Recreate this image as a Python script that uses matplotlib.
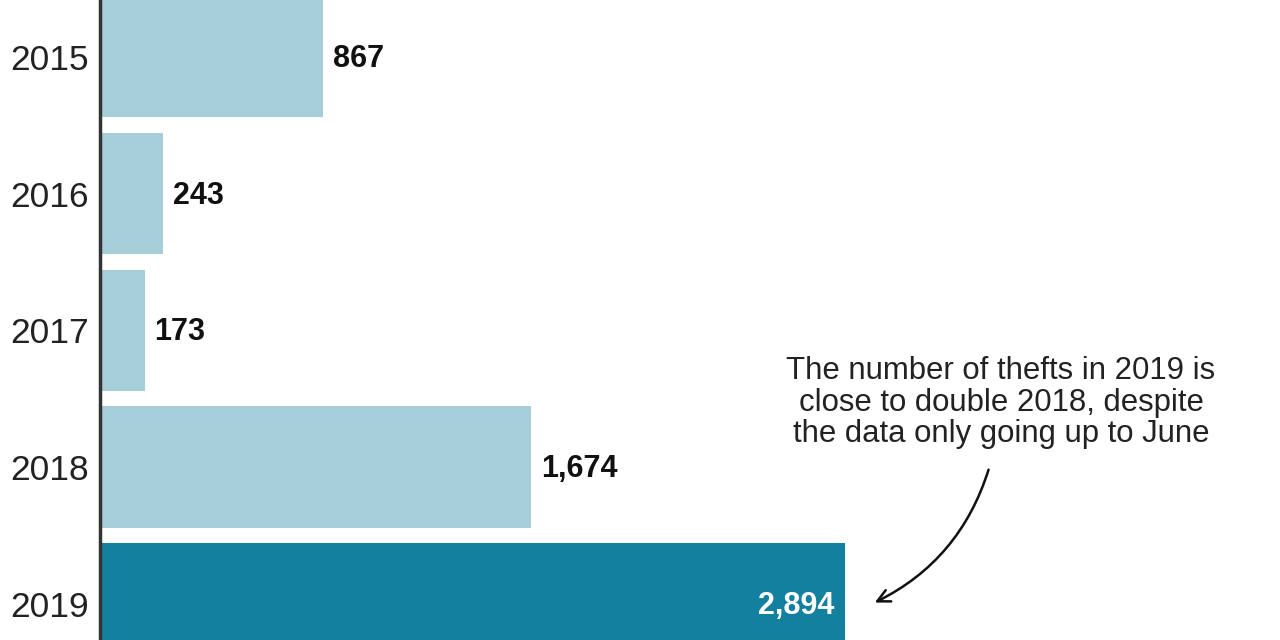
import matplotlib
matplotlib.use("Agg")
import matplotlib.pyplot as plt

years = ["2015", "2016", "2017", "2018", "2019"]
thefts = [867, 243, 173, 1674, 2894]
colors = ["#a5ced9", "#a5ced9", "#a5ced9", "#a5ced9", "#13809f"]
note = "The number of thefts in 2019 is\nclose to double 2018, despite\nthe data only going up to June"

plt.rcParams['font.family'] = ['Liberation Sans', 'DejaVu Sans']

fig = plt.figure(figsize=(12.8, 6.4), dpi=100)
ax = fig.add_axes([100/1280, 0, 1180/1280, 1])
pos = list(range(len(years)))
ax.barh(pos, thefts, height=0.888, color=colors, zorder=1)
ax.set_xlim(0, 4584)
ax.set_ylim(4.265, -0.415)
ax.set_yticks(pos)
ax.set_yticklabels(years, fontsize=25.5, color="#222222")
ax.tick_params(axis='y', length=0, pad=8)
ax.set_xticks([])
for s in ["top", "right", "bottom"]:
    ax.spines[s].set_visible(False)
ax.spines["left"].set_linewidth(2.5)
ax.spines["left"].set_color("#333333")
ax.spines["left"].set_zorder(3)

for i, v in enumerate(thefts):
    lab = f"{v:,}"
    if i == len(thefts) - 1:
        ax.annotate(lab, (v, i), xytext=(-11, -2), textcoords="offset pixels",
                    ha="right", va="center", fontsize=22, fontweight="bold", color="white")
    else:
        ax.annotate(lab, (v, i), xytext=(10, -2), textcoords="offset pixels",
                    ha="left", va="center", fontsize=22, fontweight="bold", color="#111111")

ax.text(0.782, 0.371, note, transform=fig.transFigure, ha="center", va="center",
        fontsize=22.4, color="#222222", linespacing=1.05)
ax.annotate("", xy=(3000, 4.0), xytext=(3455, 3.0),
            arrowprops=dict(arrowstyle="->,head_length=0.9,head_width=0.45", color="#111111",
                            lw=1.8, connectionstyle="arc3,rad=-0.22"))

fig.savefig("out.png", dpi=100)
